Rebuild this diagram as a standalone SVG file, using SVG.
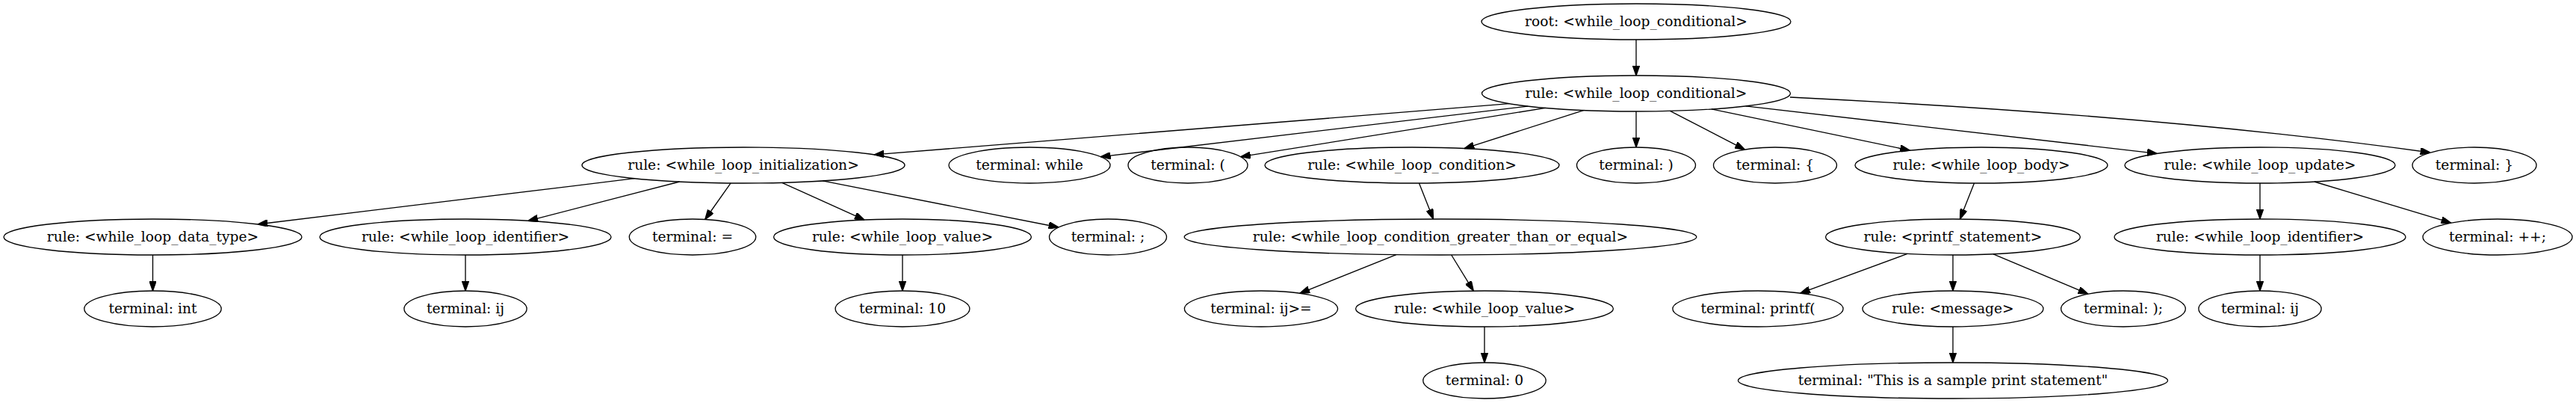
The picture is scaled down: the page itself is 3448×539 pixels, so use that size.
<svg xmlns="http://www.w3.org/2000/svg" width="3448" height="539" viewBox="0 0 3448 539">
<style>
.n ellipse{fill:none;stroke:#000;stroke-width:1.33}
.n text{font-family:"DejaVu Serif","Liberation Serif",serif;font-size:18.67px;text-anchor:middle;fill:#000}
#edges path{fill:none;stroke:#000;stroke-width:1.33;marker-end:url(#ah)}
</style>
<defs>
<marker id="ah" viewBox="0 0 10 7" refX="10" refY="3.5" markerWidth="13.33" markerHeight="9.33" markerUnits="userSpaceOnUse" orient="auto">
<path d="M0,0 L10,3.5 L0,7 z" fill="#000" stroke="#000" stroke-width="1"/>
</marker>
</defs>
<rect width="3448" height="539" fill="#fff"/>
<g id="edges">
<path d="M2190,53 L2190,101"/>
<path d="M2020.1,138.7 L1170.1,206.9"/>
<path d="M2045.2,142.1 L1473.3,209.7"/>
<path d="M2068.6,144.4 L1660.6,209.7"/>
<path d="M2119.5,147.6 L1960.1,198.6"/>
<path d="M2190,149 L2190,197"/>
<path d="M2235.4,148.4 L2335.5,200.1"/>
<path d="M2290.8,145.9 L2556.6,201.2"/>
<path d="M2336.7,141.9 L2887.3,205.3"/>
<path d="M2396,130 C2680,144 2980,166 3253,204"/>
<path d="M849.2,238.7 L344.9,300"/>
<path d="M909.6,243 L706.9,295.3"/>
<path d="M978.1,244.9 L943.7,293.5"/>
<path d="M1046.7,244.3 L1157.1,294.1"/>
<path d="M1101.2,241.9 L1417,304"/>
<path d="M1899.5,245 L1918.5,293"/>
<path d="M2642.5,245 L2623.5,293"/>
<path d="M3025,245 L3025,293"/>
<path d="M3097.8,243 L3280.8,298.2"/>
<path d="M204.5,341 L204.5,389"/>
<path d="M623,341 L623,389"/>
<path d="M1208,341 L1208,389"/>
<path d="M1868.9,340.6 L1739.8,392.3"/>
<path d="M1942.7,341 L1972.3,389.1"/>
<path d="M2553.1,339.4 L2409.6,392.2"/>
<path d="M2614,341 L2614,389"/>
<path d="M2668.1,339.8 L2795,393.2"/>
<path d="M3025,341 L3025,389"/>
<path d="M1987,437 L1987,485"/>
<path d="M2614,437 L2614,485"/>
</g>
<g id="n1" class="n"><ellipse cx="2190" cy="29" rx="207" ry="24"/><text x="2190" y="35">root: &lt;while_loop_conditional&gt;</text></g>
<g id="n2" class="n"><ellipse cx="2190" cy="125" rx="206.5" ry="24"/><text x="2190" y="131">rule: &lt;while_loop_conditional&gt;</text></g>
<g id="n3" class="n"><ellipse cx="995" cy="221" rx="216" ry="24"/><text x="995" y="227">rule: &lt;while_loop_initialization&gt;</text></g>
<g id="n4" class="n"><ellipse cx="1378" cy="221" rx="108" ry="24"/><text x="1378" y="227">terminal: while</text></g>
<g id="n5" class="n"><ellipse cx="1590" cy="221" rx="80" ry="24"/><text x="1590" y="227">terminal: (</text></g>
<g id="n6" class="n"><ellipse cx="1890" cy="221" rx="197" ry="24"/><text x="1890" y="227">rule: &lt;while_loop_condition&gt;</text></g>
<g id="n7" class="n"><ellipse cx="2190" cy="221" rx="79.5" ry="24"/><text x="2190" y="227">terminal: )</text></g>
<g id="n8" class="n"><ellipse cx="2376" cy="221" rx="82.5" ry="24"/><text x="2376" y="227">terminal: {</text></g>
<g id="n9" class="n"><ellipse cx="2652" cy="221" rx="169" ry="24"/><text x="2652" y="227">rule: &lt;while_loop_body&gt;</text></g>
<g id="n10" class="n"><ellipse cx="3025" cy="221" rx="181" ry="24"/><text x="3025" y="227">rule: &lt;while_loop_update&gt;</text></g>
<g id="n11" class="n"><ellipse cx="3312" cy="221" rx="83" ry="24"/><text x="3312" y="227">terminal: }</text></g>
<g id="n12" class="n"><ellipse cx="204.5" cy="317" rx="199.5" ry="24"/><text x="204.5" y="323">rule: &lt;while_loop_data_type&gt;</text></g>
<g id="n13" class="n"><ellipse cx="623" cy="317" rx="195" ry="24"/><text x="623" y="323">rule: &lt;while_loop_identifier&gt;</text></g>
<g id="n14" class="n"><ellipse cx="927" cy="317" rx="84.7" ry="24"/><text x="927" y="323">terminal: =</text></g>
<g id="n15" class="n"><ellipse cx="1208" cy="317" rx="172.4" ry="24"/><text x="1208" y="323">rule: &lt;while_loop_value&gt;</text></g>
<g id="n16" class="n"><ellipse cx="1483" cy="317" rx="78.5" ry="24"/><text x="1483" y="323">terminal: ;</text></g>
<g id="n17" class="n"><ellipse cx="1928" cy="317" rx="342.8" ry="24"/><text x="1928" y="323">rule: &lt;while_loop_condition_greater_than_or_equal&gt;</text></g>
<g id="n18" class="n"><ellipse cx="2614" cy="317" rx="170.4" ry="24"/><text x="2614" y="323">rule: &lt;printf_statement&gt;</text></g>
<g id="n19" class="n"><ellipse cx="3025" cy="317" rx="195" ry="24"/><text x="3025" y="323">rule: &lt;while_loop_identifier&gt;</text></g>
<g id="n20" class="n"><ellipse cx="3343" cy="317" rx="100" ry="24"/><text x="3343" y="323">terminal: ++;</text></g>
<g id="n21" class="n"><ellipse cx="204.5" cy="413" rx="91.7" ry="24"/><text x="204.5" y="419">terminal: int</text></g>
<g id="n22" class="n"><ellipse cx="623" cy="413" rx="82.1" ry="24"/><text x="623" y="419">terminal: ij</text></g>
<g id="n23" class="n"><ellipse cx="1208" cy="413" rx="89.9" ry="24"/><text x="1208" y="419">terminal: 10</text></g>
<g id="n24" class="n"><ellipse cx="1688" cy="413" rx="102.6" ry="24"/><text x="1688" y="419">terminal: ij&gt;=</text></g>
<g id="n25" class="n"><ellipse cx="1987" cy="413" rx="172.4" ry="24"/><text x="1987" y="419">rule: &lt;while_loop_value&gt;</text></g>
<g id="n26" class="n"><ellipse cx="2353" cy="413" rx="114.1" ry="24"/><text x="2353" y="419">terminal: printf(</text></g>
<g id="n27" class="n"><ellipse cx="2614" cy="413" rx="121" ry="24"/><text x="2614" y="419">rule: &lt;message&gt;</text></g>
<g id="n28" class="n"><ellipse cx="2842" cy="413" rx="83.3" ry="24"/><text x="2842" y="419">terminal: );</text></g>
<g id="n29" class="n"><ellipse cx="3025" cy="413" rx="82.1" ry="24"/><text x="3025" y="419">terminal: ij</text></g>
<g id="n30" class="n"><ellipse cx="1987" cy="509" rx="82.2" ry="24"/><text x="1987" y="515">terminal: 0</text></g>
<g id="n31" class="n"><ellipse cx="2614" cy="509" rx="287.5" ry="24"/><text x="2614" y="515">terminal: "This is a sample print statement"</text></g>
</svg>
